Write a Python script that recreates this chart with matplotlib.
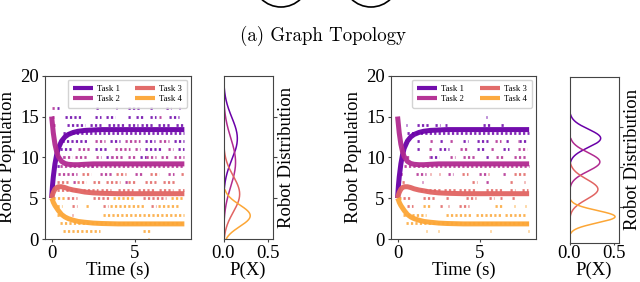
import numpy as np
import matplotlib
matplotlib.use('Agg')
import matplotlib.pyplot as plt
from matplotlib.patches import Circle

plt.rcParams['font.family'] = ['Liberation Serif', 'DejaVu Serif']

# ---------------- data ----------------
task_names = ['Task 1', 'Task 2', 'Task 3', 'Task 4']
task_colors = ['#6a00a8', '#b12a90', '#e16462', '#fca636']

# mean-field trajectories
t_mean = [0, 0.05, 0.1, 0.2, 0.3, 0.4, 0.6, 0.8, 1.0, 1.3, 1.6, 2.0, 2.5, 3.0, 4.0, 5.0, 6.0, 7.0, 8.0]
mean_task1 = [5.0, 6.5, 7.6, 9.2, 10.3, 11.1, 12.0, 12.5, 12.8, 13.05, 13.2, 13.3, 13.35, 13.4, 13.4, 13.4, 13.4, 13.4, 13.4]
mean_task2 = [15.0, 14.0, 13.0, 11.6, 10.7, 10.1, 9.5, 9.25, 9.15, 9.1, 9.1, 9.15, 9.2, 9.2, 9.2, 9.2, 9.2, 9.2, 9.2]
mean_task3 = [5.0, 5.4, 5.7, 6.1, 6.3, 6.4, 6.4, 6.3, 6.15, 6.0, 5.9, 5.75, 5.65, 5.6, 5.55, 5.55, 5.55, 5.55, 5.55]
mean_task4 = [5.0, 4.8, 4.5, 4.1, 3.8, 3.5, 3.0, 2.7, 2.5, 2.3, 2.15, 2.05, 1.95, 1.9, 1.85, 1.85, 1.85, 1.85, 1.85]

# stochastic samples, as runs (count level, t_start, t_end)
left_runs_task1 = [(20, 5.9, 5.95),
    (16, 0.3, 0.45), (16, 1.5, 1.55), (16, 2.7, 2.9), (16, 3.9, 3.95), (16, 4.6, 5.3), (16, 5.9, 6.1), (16, 6.9, 7.2), (16, 7.7, 7.75),
    (15, 0.8, 1.8), (15, 2.6, 3.0), (15, 3.3, 3.8), (15, 4.6, 4.8), (15, 5.1, 5.5), (15, 5.9, 6.3), (15, 7.1, 7.7),
    (14, 0.9, 2.0), (14, 2.3, 3.0), (14, 3.4, 4.4), (14, 4.6, 5.2), (14, 5.4, 6.1), (14, 6.4, 7.2), (14, 7.5, 7.9),
    (13, 0.7, 8.0),
    (12, 0.6, 2.2), (12, 3.5, 4.1), (12, 5.6, 6.2), (12, 7.4, 8.0),
    (11, 0.5, 1.3), (11, 2.6, 3.4), (11, 5.6, 6.6), (11, 7.6, 8.0),
    (10, 0.4, 0.7), (10, 3.3, 3.6), (10, 5.3, 5.7),
    (9, 0.3, 0.5), (9, 2.4, 2.5)]
left_runs_task2 = [(16, 0.05, 0.2), (15, 0.0, 0.15), (15, 4.1, 4.15), (15, 6.5, 6.6), (14, 0.1, 0.2),
    (12, 2.6, 3.2), (12, 4.4, 5.3), (12, 6.5, 7.1),
    (11, 1.6, 2.3), (11, 3.8, 4.7), (11, 5.0, 5.3), (11, 7.0, 7.3),
    (10, 0.7, 1.2), (10, 1.4, 2.2), (10, 2.7, 3.0), (10, 3.6, 4.3), (10, 4.6, 5.0), (10, 5.7, 6.3), (10, 6.6, 7.0), (10, 7.4, 8.0),
    (9, 0.5, 8.0),
    (8, 0.4, 1.5), (8, 2.9, 3.7), (8, 5.0, 5.5), (8, 7.0, 7.4),
    (7, 1.3, 1.5), (7, 4.4, 4.6)]
left_runs_task3 = [(8, 1.8, 2.4), (8, 3.9, 4.5), (8, 5.9, 6.5), (8, 7.8, 8.0),
    (7, 0.3, 1.0), (7, 1.5, 2.1), (7, 2.5, 3.0), (7, 3.3, 4.1), (7, 4.6, 5.1), (7, 5.6, 6.3), (7, 6.7, 7.5),
    (6, 0.3, 1.5), (6, 1.9, 2.8), (6, 3.0, 3.6), (6, 4.0, 4.9), (6, 5.2, 6.2), (6, 6.5, 7.3), (6, 7.6, 8.0),
    (5, 0.9, 1.5), (5, 2.5, 3.5), (5, 5.5, 6.9),
    (4, 1.2, 1.5), (4, 3.1, 3.4), (4, 6.0, 6.3), (3, 1.2, 1.3)]
left_runs_task4 = [(5, 0.1, 0.8), (5, 3.7, 5.0), (5, 7.2, 8.0),
    (4, 0.3, 0.6), (4, 2.1, 2.3), (4, 3.5, 5.6), (4, 6.4, 7.6),
    (3, 0.3, 0.6), (3, 3.1, 8.0),
    (2, 0.5, 8.0),
    (1, 0.7, 2.9), (1, 5.5, 5.9),
    (0, 1.5, 1.55), (0, 5.8, 5.85)]

right_runs_task1 = [(15, 5.4, 5.45),
    (14, 0.5, 0.55), (14, 1.2, 1.9), (14, 2.3, 2.6), (14, 2.9, 3.0), (14, 5.2, 5.7), (14, 6.3, 6.5),
    (13, 0.6, 8.0),
    (12, 1.2, 1.4), (12, 2.6, 2.8), (12, 4.0, 4.3), (12, 4.8, 5.5), (12, 6.6, 6.8), (12, 7.4, 7.8),
    (11, 1.2, 1.4), (11, 2.5, 3.1), (11, 4.8, 5.3), (11, 6.4, 6.8),
    (10, 2.0, 2.5), (10, 5.4, 5.6)]
right_runs_task2 = [(12, 2.0, 2.2), (12, 3.2, 3.4), (12, 5.9, 6.3), (12, 7.3, 7.4),
    (11, 0.2, 0.45), (11, 1.9, 2.1), (11, 3.8, 4.3), (11, 5.7, 5.9), (11, 7.3, 7.9),
    (10, 0.25, 0.75), (10, 1.4, 1.45), (10, 1.9, 2.0), (10, 3.2, 3.5), (10, 4.0, 4.7), (10, 6.0, 6.5), (10, 7.1, 7.9),
    (9, 0.4, 8.0),
    (8, 0.15, 0.35), (8, 1.15, 1.75), (8, 3.05, 3.35), (8, 4.95, 5.35), (8, 6.4, 6.65),
    (7, 1.5, 1.55), (7, 5.4, 5.55)]
right_runs_task3 = [(8, 2.0, 2.05), (8, 2.5, 2.55), (8, 3.9, 4.3), (8, 5.5, 5.55), (8, 7.1, 7.9),
    (7, 0.25, 0.45), (7, 4.5, 4.85), (7, 6.85, 7.05), (7, 7.7, 7.75),
    (6, 1.35, 2.55), (6, 2.85, 3.55), (6, 3.75, 4.75), (6, 5.35, 6.35), (6, 6.85, 7.15), (6, 7.55, 7.95),
    (5, 0.35, 0.75), (5, 1.55, 2.35), (5, 2.95, 3.15), (5, 4.15, 4.75), (5, 5.55, 5.85), (5, 6.25, 6.35), (5, 6.95, 7.15),
    (4, 0.55, 0.95), (4, 2.55, 2.75), (4, 3.05, 3.1), (4, 3.75, 4.35)]
right_runs_task4 = [(5, 0.1, 0.2),
    (4, 1.55, 1.95), (4, 5.05, 5.1), (4, 5.95, 6.35), (4, 7.05, 7.15), (4, 7.75, 7.8),
    (3, 0.35, 1.75), (3, 2.95, 4.45), (3, 4.75, 6.35), (3, 6.55, 7.75),
    (2, 0.5, 8.0),
    (1, 1.75, 1.8), (1, 2.45, 2.5), (1, 5.65, 5.7), (1, 7.95, 8.0)]

# robot distributions: mean, std, and plotted count range (lo, hi)
left_dist_mean = [12.3, 9.4, 5.5, 2.85]
left_dist_std = [2.57, 2.95, 2.2, 1.33]
left_dist_lo = [5.0, 0.0, 0.0, 0.0]
left_dist_hi = [19.4, 19.4, 11.4, 6.0]

right_dist_mean = [13.55, 10.6, 7.18, 3.75]
right_dist_std = [1.14, 1.17, 1.25, 0.78]
right_dist_lo = [10.6, 7.2, 2.3, 1.7]
right_dist_hi = [16.5, 13.5, 11.4, 5.8]

# ---------------- figure ----------------
W, H = 640, 282
fig = plt.figure(figsize=(W / 100, H / 100), dpi=100)


def rect(x0, y0, x1, y1):
    return [x0 / W, 1 - y1 / H, (x1 - x0) / W, (y1 - y0) / H]


# top: graph topology fragment and caption
top = fig.add_axes([0, 0, 1, 1])
top.set_xlim(0, W)
top.set_ylim(H, 0)
top.axis('off')
for cx in (281, 371):
    top.add_patch(Circle((cx, -21), 28, fill=False, lw=1.2, color='black'))
top.text(323, 36, '(a) Graph Topology', ha='center', va='center', fontsize=13.6,
         family=['cmr10', 'DejaVu Serif'])

FS = 13.5
spine_col = '#444444'
XLABEL_TOP_PX = 261.9


def style(ax):
    for s in ax.spines.values():
        s.set_color(spine_col)
        s.set_linewidth(0.8)
    ax.tick_params(labelsize=FS, length=2.5, pad=2.0, width=0.8, color=spine_col)


def main_panel(box, runs_list):
    ax = fig.add_axes(rect(*box))
    for runs, col in zip(runs_list, task_colors):
        lv = [r[0] for r in runs]
        t0 = [r[1] for r in runs]
        t1 = [r[2] for r in runs]
        ax.hlines(lv, t0, t1, colors=col, linewidth=2.0, linestyles=(0, (0.8, 0.8)), alpha=0.85)
    means = [mean_task1, mean_task2, mean_task3, mean_task4]
    for m, col, name in zip(means, task_colors, task_names):
        ax.plot(t_mean, m, color=col, lw=3.6, label=name, solid_capstyle='butt', alpha=0.95)
    ax.set_xlim(-0.4, 8.4)
    ax.set_ylim(0, 20)
    ax.set_xticks([0, 5])
    ax.set_yticks([0, 5, 10, 15, 20])
    style(ax)
    ax.set_xlabel('Time (s)', fontsize=FS)
    ax.set_ylabel('Robot Population', fontsize=FS)
    ax.xaxis.set_label_coords(0.5, -(XLABEL_TOP_PX - box[3]) / (box[3] - box[1]))
    ax.yaxis.set_label_coords(-0.2, 0.5)
    leg = ax.legend(loc='upper right', ncol=2, fontsize=6.3, handlelength=2.3, columnspacing=1.8,
                    handletextpad=0.45, labelspacing=0.3, borderpad=0.55, framealpha=0.85,
                    borderaxespad=0.45)
    for h in leg.legend_handles:
        h.set_linewidth(3)
    return ax


def dist_panel(box, mean, std, lo, hi, ylim, xtick_len, xtick_pad):
    ax = fig.add_axes(rect(*box))
    for mu, sd, a, b, col in zip(mean, std, lo, hi, task_colors):
        y = np.linspace(a, b, 300)
        p = np.exp(-0.5 * ((y - mu) / sd) ** 2) / (sd * np.sqrt(2 * np.pi))
        ax.plot(p, y, color=col, lw=1.1)
    ax.set_xlim(0, 0.55)
    ax.set_ylim(*ylim)
    ax.set_xticks([0.0, 0.5])
    ax.set_xticklabels(['0.0', '0.5'])
    ax.set_yticks([5, 10, 15])
    style(ax)
    ax.tick_params(axis='x', length=xtick_len, pad=xtick_pad)
    ax.yaxis.tick_right()
    ax.tick_params(axis='y', labelright=False, labelleft=False, length=3)
    ax.yaxis.set_label_position('right')
    ax.set_ylabel('Robot Distribution', fontsize=FS)
    ax.set_xlabel('P(X)', fontsize=FS)
    ax.xaxis.set_label_coords(0.5, -(XLABEL_TOP_PX - box[3]) / (box[3] - box[1]))
    ax.yaxis.set_label_coords(1.12, 0.5)
    return ax


main_panel((45, 75.7, 191, 239), [left_runs_task1, left_runs_task2, left_runs_task3, left_runs_task4])
dist_panel((223.5, 75.7, 272.5, 239), left_dist_mean, left_dist_std, left_dist_lo, left_dist_hi, (0, 20), 2.5, 2.0)
main_panel((391, 75.7, 535.7, 239), [right_runs_task1, right_runs_task2, right_runs_task3, right_runs_task4])
dist_panel((569.5, 76.7, 618.5, 242.7), right_dist_mean, right_dist_std, right_dist_lo, right_dist_hi, (0.5, 21.25), 1.2, 0.8)

fig.savefig('out.png', dpi=100)
